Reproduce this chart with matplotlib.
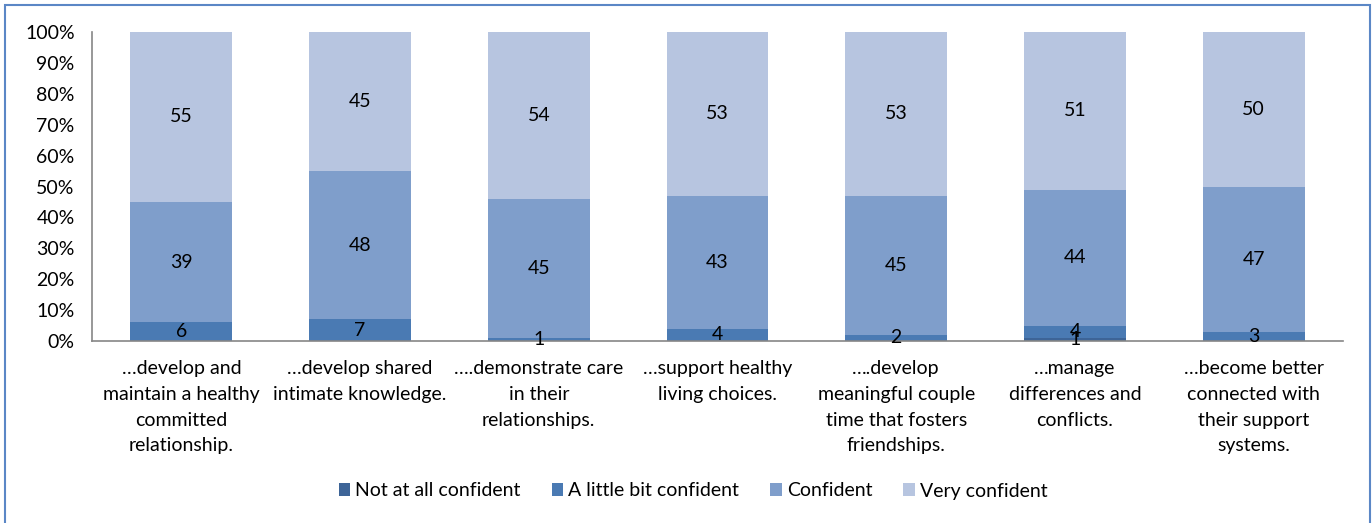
import matplotlib
matplotlib.use("Agg")
import matplotlib.pyplot as plt
from matplotlib.patches import Rectangle
import numpy as np

plt.rcParams['font.family'] = ['Lato', 'DejaVu Sans']

categories = [
    "\u2026develop and\nmaintain a healthy\ncommitted\nrelationship.",
    "\u2026develop shared\nintimate knowledge.",
    "\u2026.demonstrate care\nin their\nrelationships.",
    "\u2026support healthy\nliving choices.",
    "\u2026.develop\nmeaningful couple\ntime that fosters\nfriendships.",
    "\u2026manage\ndifferences and\nconflicts.",
    "\u2026become better\nconnected with\ntheir support\nsystems.",
]
series_names = ["Not at all confident", "A little bit confident", "Confident", "Very confident"]
not_at_all = [0, 0, 0, 0, 0, 1, 0]
little_bit = [6, 7, 1, 4, 2, 4, 3]
confident = [39, 48, 45, 43, 45, 44, 47]
very_confident = [55, 45, 54, 53, 53, 51, 50]
colors = ["#3d6497", "#4a7ab3", "#7f9ecb", "#b7c5e0"]
yticks = [0, 10, 20, 30, 40, 50, 60, 70, 80, 90, 100]

FS = 14
fig = plt.figure(figsize=(13.72, 5.23), dpi=100)
ax = fig.add_axes([92/1372, 1-341/523, (1343-92)/1372, (341-32)/523])

x = np.arange(len(categories))
data = [not_at_all, little_bit, confident, very_confident]
bottom = np.zeros(len(categories))
width = 0.57
for vals, name, col in zip(data, series_names, colors):
    vals = np.array(vals, dtype=float)
    ax.bar(x, vals, width, bottom=bottom, color=col, label=name, edgecolor='none')
    for xi, v, b in zip(x, vals, bottom):
        if v > 0:
            ax.text(xi, b + v/2, f"{int(v)}", ha='center', va='center', fontsize=FS, color='black')
    bottom += vals

ax.set_xlim(-0.5, len(categories) - 0.5)
ax.set_ylim(0, 100)
ax.set_yticks(yticks)
ax.set_yticklabels([f"{t}%" for t in yticks], fontsize=FS)
ax.set_xticks(x)
ax.set_xticklabels(categories, fontsize=FS, linespacing=1.62)
ax.tick_params(axis='y', length=0, pad=12.5)
ax.tick_params(axis='x', length=0, pad=14)
for s in ['top', 'right']:
    ax.spines[s].set_visible(False)
for s in ['left', 'bottom']:
    ax.spines[s].set_color('#868686')
    ax.spines[s].set_linewidth(1.2)

handles, labels = ax.get_legend_handles_labels()
fig.legend(handles, labels, loc='center', bbox_to_anchor=(693/1372, 1-491/523), ncol=4,
           frameon=False, fontsize=FS, handlelength=0.6, handleheight=0.6,
           handletextpad=0.25, columnspacing=1.6)

fig.patches.append(Rectangle((5/1372, -0.05), (1370-5)/1372, 1.05 - 5/523,
                             transform=fig.transFigure, fill=False,
                             edgecolor='#5b87c6', linewidth=1.5))

fig.savefig("out.png", dpi=100)
